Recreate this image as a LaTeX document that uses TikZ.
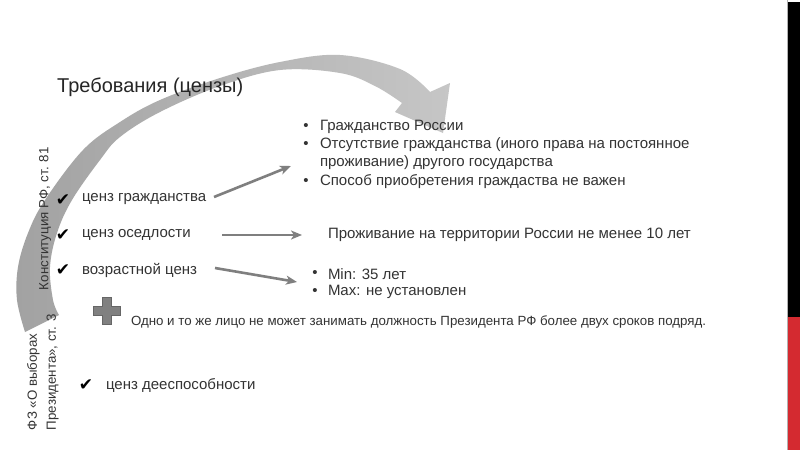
\documentclass[tikz,border=0pt]{standalone}
\usepackage{fontspec}
\setmainfont{Liberation Sans}
\newfontfamily\symfnt{DejaVu Sans}
\usetikzlibrary{arrows.meta}
\definecolor{txt}{HTML}{333333}
\definecolor{ttl}{HTML}{262626}
\definecolor{arr}{HTML}{7F7F7F}
\definecolor{plusfill}{HTML}{808080}
\definecolor{plusedge}{HTML}{666666}
\definecolor{barred}{HTML}{D42A30}
\definecolor{barblack}{HTML}{000000}
\definecolor{banddark}{HTML}{A2A2A2}
\definecolor{bandlight}{HTML}{C6C6C6}
\tikzset{
  txtnode/.style={inner sep=0pt, outer sep=0pt, text=txt, anchor=west, font=\fontsize{15}{18}\selectfont},
  smalltxt/.style={inner sep=0pt, outer sep=0pt, text=txt, anchor=west, font=\fontsize{13.3}{16}\selectfont},
  checkmark/.style={inner sep=0pt, outer sep=0pt, text=black, font=\symfnt\fontsize{17}{18}\selectfont},
  bulletmark/.style={inner sep=0pt, outer sep=0pt, text=txt, font=\fontsize{15}{18}\selectfont},
  straightarrow/.style={draw=arr, line width=2.6pt, -{Stealth[length=11pt,width=9pt,inset=3pt]}},
}
\begin{document}
\begin{tikzpicture}[x=1pt,y=-1pt]
\useasboundingbox (0,0) rectangle (800,450);
\fill[white] (0,0) rectangle (800,450);

% curved band arrow
\shade[left color=banddark, right color=bandlight]
  (25,332) -- plot[smooth, tension=0.6] coordinates {(25,332) (17,300) (18,267) (28,233) (45,200) (83,150) (120,122) (160,100) (220,78) (280,62) (340,55) (400,69) (430,92)}
  -- (450,83) -- (443,133) -- (395,112)
  -- plot[smooth, tension=0.6] coordinates {(402,103) (375,86) (340,73) (280,70) (220,86) (160,112) (120,137) (100,160) (72,200) (57,233) (50,267) (53,300) (59,315)}
  -- cycle;

% title
\node[inner sep=0pt, anchor=west, text=ttl, font=\fontsize{20}{23}\selectfont] (title) at (57,87) {Требования (цензы)};

% rotated labels
\node[smalltxt, rotate=90] (konst) at (45,290) {Конституция РФ, ст. 81};
\node[smalltxt, rotate=90, align=left, font=\fontsize{13.3}{19}\selectfont] (fz) at (43,430) {ФЗ «О выборах\\Президента», ст. 3};

% checks and items
\node[checkmark] (c1) at (63,200) {✔};
\node[checkmark] (c2) at (63,235) {✔};
\node[checkmark] (c3) at (63,270) {✔};
\node[checkmark] (c4) at (86,385) {✔};
\node[txtnode] (i1) at (82,199) {ценз гражданства};
\node[txtnode] (i2) at (82,235) {ценз оседлости};
\node[txtnode] (i3) at (82,270) {возрастной ценз};
\node[txtnode] (i4) at (106,385) {ценз дееспособности};

% right texts
\node[bulletmark] (b1) at (306,127) {•};
\node[bulletmark] (b2) at (306,145) {•};
\node[bulletmark] (b3) at (306,182) {•};
\node[txtnode] (r1) at (320,127) {Гражданство России};
\node[txtnode] (r2) at (320,145) {Отсутствие гражданства (иного права на постоянное};
\node[txtnode] (r2b) at (320,163) {проживание) другого государства};
\node[txtnode] (r3) at (320,182) {Способ приобретения граждаства не важен};
\node[txtnode] (res) at (328,235) {Проживание на территории России не менее 10 лет};
\node[bulletmark] (b4) at (315,274) {•};
\node[bulletmark] (b5) at (315,292) {•};
\node[txtnode] (age1) at (328,274) {Min: 35 лет};
\node[txtnode] (age2) at (328,292) {Max: не установлен};

% plus sign
\begin{scope}[shift={(106.5,310.5)}]
\fill[plusfill, draw=plusedge, line width=0.8pt]
  (-4.5,-13.5) -- (4.5,-13.5) -- (4.5,-4.5) -- (13.5,-4.5)
  -- (13.5,4.5) -- (4.5,4.5) -- (4.5,13.5) -- (-4.5,13.5)
  -- (-4.5,4.5) -- (-13.5,4.5) -- (-13.5,-4.5) -- (-4.5,-4.5) -- cycle;
\end{scope}
\node[smalltxt] (note) at (131,322) {Одно и то же лицо не может занимать должность Президента РФ более двух сроков подряд.};

% straight arrows
\coordinate (a1s) at (214,197);
\coordinate (a1e) at (291,166);
\coordinate (a2s) at (222,235);
\coordinate (a2e) at (302,235);
\coordinate (a3s) at (215,268);
\coordinate (a3e) at (297,282);
\draw[straightarrow] (a1s) -- (a1e);
\draw[straightarrow] (a2s) -- (a2e);
\draw[straightarrow] (a3s) -- (a3e);

% right edge bars (drawn last)
\path[fill=barblack] (788,1.5) -- (800,1.5) -- (800,317) -- (788,317) -- cycle;
\path[fill=barred] (788,317) -- (800,317) -- (800,450) -- (788,450) -- cycle;
\draw[gray!60, line width=0.8pt] (787.5,0) -- (787.5,450);
\end{tikzpicture}
\end{document}
